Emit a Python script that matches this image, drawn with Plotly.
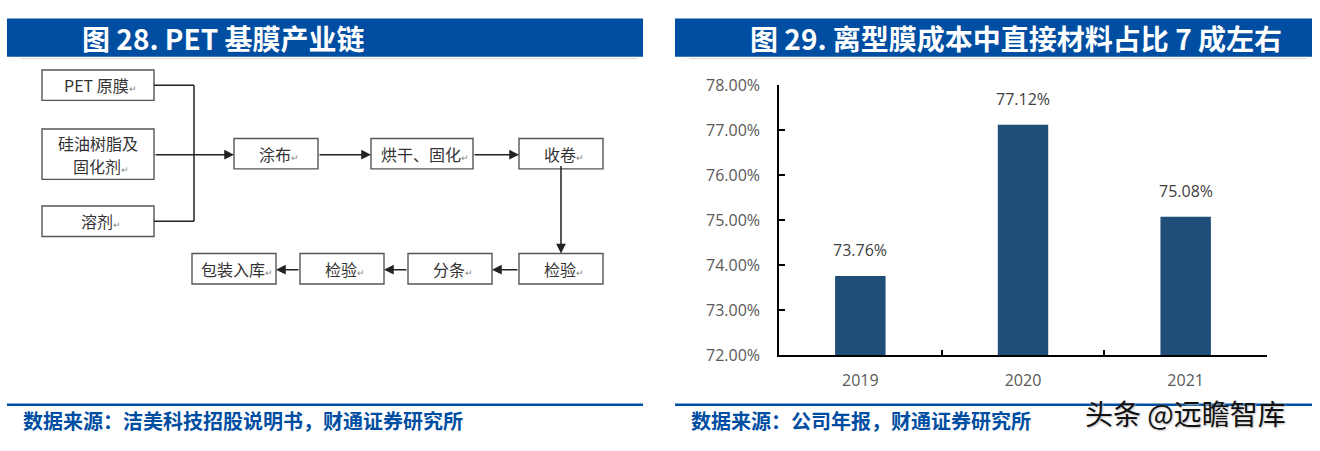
import plotly.graph_objects as go

# ---------------- data ----------------
years = ["2019", "2020", "2021"]
share_pct = [73.76, 77.12, 75.08]
y_ticks = [72, 73, 74, 75, 76, 77, 78]

title_left = "图 28. PET 基膜产业链"
title_right = "图 29. 离型膜成本中直接材料占比 7 成左右"
source_left = "数据来源：洁美科技招股说明书，财通证券研究所"
source_right = "数据来源：公司年报，财通证券研究所"
watermark = "头条 @远瞻智库"

flow_nodes = ["PET 原膜", "硅油树脂及<br>固化剂", "溶剂", "涂布", "烘干、固化", "收卷",
              "检验", "分条", "检验", "包装入库"]

# ---------------- layout geometry (pixels) ----------------
W, H = 1320, 451
BLUE = "#004EA2"
BAR = "#1F4E79"


def px(x):
    return x / W


def py(y):
    return 1 - y / H


# box geometry for flowchart: (x0, x1, y0, y1)
boxes = [
    (42, 154, 62, 94),
    (42, 154, 124, 177),
    (42, 154, 205, 237),
    (234, 318, 134, 166),
    (371, 473, 134, 166),
    (519, 603, 134, 166),
    (519, 603, 255, 287),
    (408, 492, 255, 287),
    (300, 384, 255, 287),
    (192, 276, 255, 287),
]
LINE_GAP = 24  # px between wrapped lines inside a box

fig = go.Figure()

fig.add_trace(go.Bar(
    x=years, y=share_pct, width=0.31,
    marker=dict(color=BAR, line=dict(width=0)),
    hoverinfo="skip", showlegend=False,
))

shapes = []
annotations = []

# headers
for (x0, x1, txt, tx) in [(7, 643, title_left, 80), (675, 1312, title_right, 748)]:
    shapes.append(dict(type="rect", xref="paper", yref="paper",
                       x0=px(x0), x1=px(x1), y0=py(48), y1=py(8),
                       fillcolor=BLUE, line=dict(width=0), layer="below"))
    shapes.append(dict(type="line", xref="paper", yref="paper",
                       x0=px(x0 + 14), x1=px(x1 - 6), y0=py(50), y1=py(50),
                       line=dict(color="#d8d8d8", width=1)))
    annotations.append(dict(xref="paper", yref="paper", x=px(tx), y=py(28),
                            xanchor="left", yanchor="middle", showarrow=False,
                            text=txt,
                            font=dict(family="Noto Sans CJK SC", size=28,
                                      color="white", weight="bold")))
    # bottom rule
    shapes.append(dict(type="line", xref="paper", yref="paper",
                       x0=px(x0), x1=px(x1), y0=py(414), y1=py(414),
                       line=dict(color=BLUE, width=2.5)))

annotations.append(dict(xref="paper", yref="paper", x=px(21), y=py(431),
                        xanchor="left", yanchor="middle", showarrow=False,
                        text=source_left,
                        font=dict(family="Noto Sans CJK SC", size=20,
                                  color=BLUE, weight="bold")))
annotations.append(dict(xref="paper", yref="paper", x=px(689), y=py(431),
                        xanchor="left", yanchor="middle", showarrow=False,
                        text=source_right,
                        font=dict(family="Noto Sans CJK SC", size=20,
                                  color=BLUE, weight="bold")))
annotations.append(dict(xref="paper", yref="paper", x=px(1185), y=py(423),
                        xanchor="center", yanchor="middle", showarrow=False,
                        text=watermark,
                        font=dict(family="Noto Sans CJK SC", size=28,
                                  color="#111111", shadow="1px 1px 2px #bbbbbb")))

# flowchart boxes + labels
RET = "<span style='font-size:9px;color:#888'>↵</span>"
for label, (x0, x1, y0, y1) in zip(flow_nodes, boxes):
    shapes.append(dict(type="rect", xref="paper", yref="paper",
                       x0=px(x0), x1=px(x1), y0=py(y1), y1=py(y0),
                       fillcolor="white", line=dict(color="#555555", width=1.4)))
    parts = label.split("<br>")
    n = len(parts)
    cy = (y0 + y1) / 2
    for k, part in enumerate(parts):
        ly = cy + (k - (n - 1) / 2) * LINE_GAP
        suffix = RET if k == n - 1 else ""
        annotations.append(dict(xref="paper", yref="paper",
                                x=px((x0 + x1) / 2 + (3 if suffix else 0)), y=py(ly),
                                xanchor="center", yanchor="middle", showarrow=False,
                                text=part + suffix,
                                font=dict(family="Noto Sans CJK SC", size=16,
                                          color="#333333")))

LINE = dict(color="#222222", width=1.5)
# connectors without arrows
for (xa, ya, xb, yb) in [(154, 78, 194, 78), (194, 78, 194, 221), (154, 221, 194, 221)]:
    shapes.append(dict(type="line", xref="paper", yref="paper",
                       x0=px(xa), y0=py(ya), x1=px(xb), y1=py(yb), line=LINE))

# arrows (tail -> tip)
arrows = [
    ((154, 151), (234, 151)),
    ((318, 151), (371, 151)),
    ((473, 151), (519, 151)),
    ((561, 166), (561, 255)),
    ((519, 272), (492, 272)),
    ((408, 272), (384, 272)),
    ((300, 272), (276, 272)),
]
for (tx, ty), (hx, hy) in arrows:
    annotations.append(dict(xref="paper", yref="paper", x=px(hx), y=py(hy),
                            ax=tx - hx, ay=ty - hy, axref="pixel", ayref="pixel",
                            showarrow=True, arrowhead=2, arrowsize=1.3,
                            arrowwidth=1.5, arrowcolor="#222222", text=""))

# data labels for bars (category index positions)
for i, v in enumerate(share_pct):
    annotations.append(dict(xref="x", yref="y", x=i, y=v, yshift=13,
                            xanchor="center", yanchor="bottom", showarrow=False,
                            text=f"{v:.2f}%",
                            font=dict(family="Open Sans", size=16, color="#404040")))

fig.update_layout(
    width=W, height=H, margin=dict(l=0, r=0, t=0, b=0),
    paper_bgcolor="white", plot_bgcolor="white",
    shapes=shapes, annotations=annotations,
    xaxis=dict(domain=[px(779), px(1267)], type="category", range=[-0.5, 2.5],
               showline=True, linecolor="black", linewidth=1.5,
               ticks="inside", tickson="boundaries", ticklen=6, tickcolor="black",
               tickwidth=1.5, showgrid=False, zeroline=False,
               tickfont=dict(family="Open Sans", size=16, color="#595959"),
               ticklabelstandoff=10),
    yaxis=dict(domain=[py(362), py(78)], range=[72, 78], tickvals=y_ticks,
               ticktext=[f"{t:.2f}%" for t in y_ticks],
               showline=True, linecolor="black", linewidth=1.5,
               ticks="inside", ticklen=6, tickcolor="black", tickwidth=1.5,
               showgrid=False, zeroline=False,
               tickfont=dict(family="Open Sans", size=16, color="#595959"),
               ticklabelstandoff=14),
    bargap=0.69,
)

fig.write_html("out.html")
